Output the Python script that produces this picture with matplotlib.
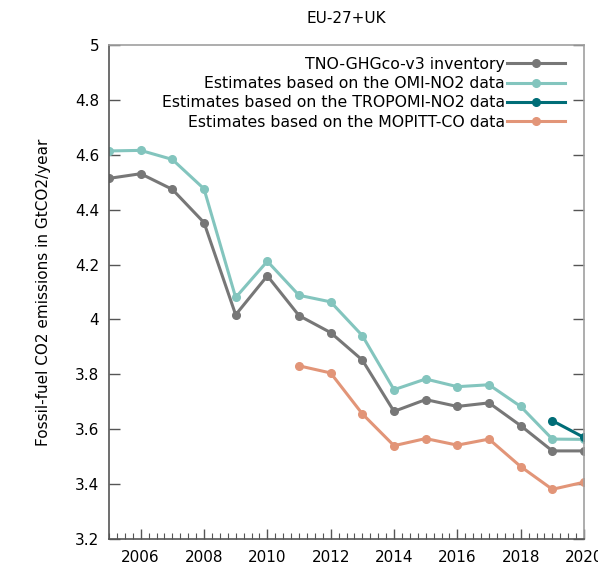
import matplotlib
matplotlib.use("Agg")
import matplotlib.pyplot as plt
from matplotlib.ticker import MultipleLocator

plt.rcParams['font.family'] = ['DejaVu Sans']

years = list(range(2005, 2021))
tno = [4.514, 4.531, 4.474, 4.353, 4.017, 4.159, 4.014, 3.952, 3.852, 3.665,
       3.708, 3.683, 3.696, 3.613, 3.521, 3.521]
omi = [4.614, 4.616, 4.583, 4.476, 4.080, 4.212, 4.088, 4.064, 3.941, 3.744,
       3.783, 3.755, 3.762, 3.683, 3.564, 3.563]
tropomi_years = [2019, 2020]
tropomi = [3.631, 3.570]
mopitt_years = list(range(2011, 2021))
mopitt = [3.831, 3.805, 3.656, 3.540, 3.566, 3.542, 3.564, 3.464, 3.381, 3.407]

labels = ["TNO-GHGco-v3 inventory",
          "Estimates based on the OMI-NO2 data",
          "Estimates based on the TROPOMI-NO2 data",
          "Estimates based on the MOPITT-CO data"]
colors = ["#777777", "#83c5be", "#006d77", "#e29578"]

fig = plt.figure(figsize=(5.98, 5.72), dpi=100)
ax = fig.add_axes([109 / 598, 33 / 572, 475 / 598, 494 / 572])

style = dict(lw=2.2, marker='o', ms=5.5)
ax.plot(years, tno, color=colors[0], label=labels[0], **style)
ax.plot(years, omi, color=colors[1], label=labels[1], **style)
ax.plot(tropomi_years, tropomi, color=colors[2], label=labels[2], **style)
ax.plot(mopitt_years, mopitt, color=colors[3], label=labels[3], **style)

ax.set_xlim(2005, 2020)
ax.set_ylim(3.2, 5.0)
ax.xaxis.set_minor_locator(MultipleLocator(0.25))
ax.set_xticks(list(range(2006, 2021, 2)))
ax.set_xticklabels([str(y) for y in range(2006, 2021, 2)])
ax.set_yticks([3.2 + 0.2 * i for i in range(10)])
ax.set_yticklabels(["3.2", "3.4", "3.6", "3.8", "4", "4.2", "4.4", "4.6", "4.8", "5"])

ax.tick_params(axis='x', which='major', direction='in', length=7, width=1,
               color='#555555', labelsize=11, pad=8, top=False)
ax.tick_params(axis='x', which='minor', direction='in', length=4, width=0.8,
               color='#555555', top=False)
ax.tick_params(axis='y', which='major', direction='in', length=8, width=1,
               color='#555555', labelsize=11, pad=7, right=True)

for side in ('left', 'bottom'):
    ax.spines[side].set_color('#555555')
    ax.spines[side].set_linewidth(1.2)
for side in ('top', 'right'):
    ax.spines[side].set_color('#a0a0a0')
    ax.spines[side].set_linewidth(1.2)

ax.set_ylabel("Fossil-fuel CO2 emissions in GtCO2/year", fontsize=11, labelpad=17)
ax.set_title("EU-27+UK", fontsize=11, pad=16)

ax.legend(loc='upper right', bbox_to_anchor=(0.96, 0.976), frameon=False,
          markerfirst=False, fontsize=11.3, handlelength=3.7, handletextpad=0.15,
          labelspacing=0.27, borderaxespad=0, borderpad=0)

fig.savefig("out.png", dpi=100)
